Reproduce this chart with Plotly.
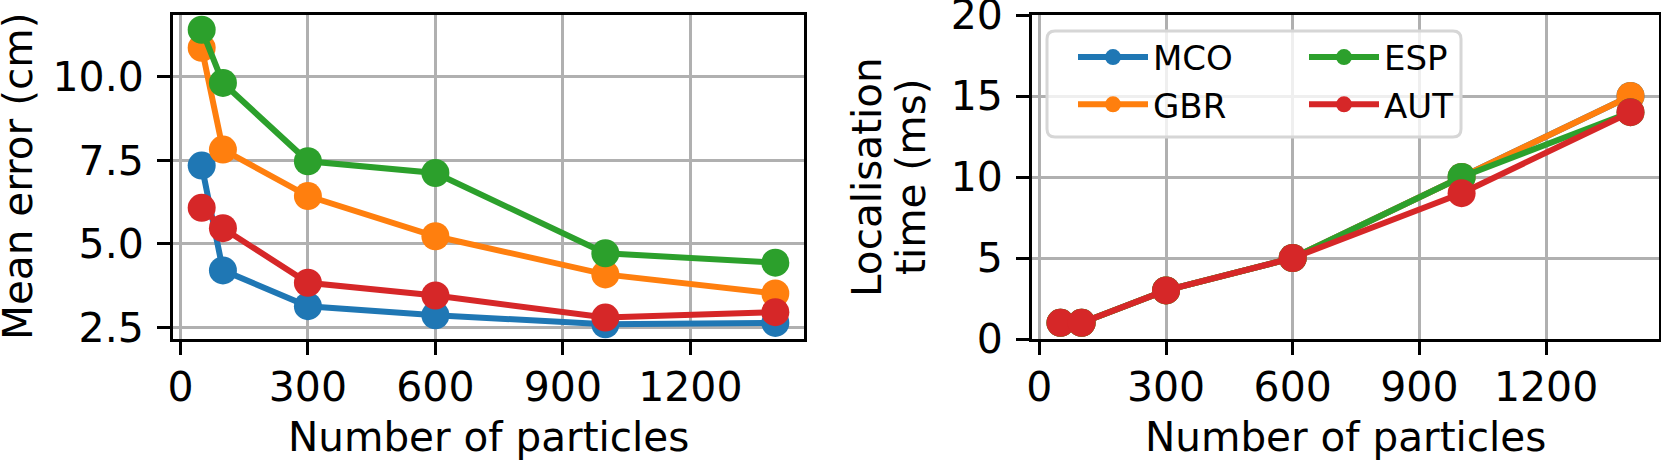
import plotly.graph_objects as go
from plotly.subplots import make_subplots

# number of particles (shared x)
particles = [50, 100, 300, 600, 1000, 1400]

# mean localisation error (cm)
err_mco = [7.34, 4.21, 3.14, 2.87, 2.60, 2.64]
err_gbr = [10.86, 7.82, 6.43, 5.23, 4.09, 3.52]
err_esp = [11.40, 9.81, 7.47, 7.12, 4.72, 4.44]
err_aut = [6.08, 5.47, 3.84, 3.46, 2.80, 2.96]

# localisation time (ms)
time_mco = [1, 1, 3, 5, 10, 15]
time_gbr = [1, 1, 3, 5, 10, 15]
time_esp = [1, 1, 3, 5, 10, 14]
time_aut = [1, 1, 3, 5, 9, 14]

names = ['MCO', 'GBR', 'ESP', 'AUT']
colors = ['#1f77b4', '#ff7f0e', '#2ca02c', '#d62728']
errors = [err_mco, err_gbr, err_esp, err_aut]
times = [time_mco, time_gbr, time_esp, time_aut]

W, H = 1661, 463
FONT = 'DejaVu Sans'

fig = make_subplots(rows=1, cols=2)

for i, (name, color) in enumerate(zip(names, colors)):
    fig.add_trace(go.Scatter(x=particles, y=errors[i], mode='lines+markers', name=name,
                             line=dict(color=color, width=6), marker=dict(color=color, size=28),
                             showlegend=False), 1, 1)
    # matplotlib legend with ncol=2 -> first two in legend, last two in legend2
    fig.add_trace(go.Scatter(x=particles, y=times[i], mode='lines+markers', name=name,
                             line=dict(color=color, width=6), marker=dict(color=color, size=28),
                             legend='legend' if i < 2 else 'legend2'), 1, 2)

# pixel helpers
def px_x(p):
    return p / W

def px_y(p):
    return 1 - p / H

ymin, ymax = min(min(e) for e in errors), max(max(e) for e in errors)
pad = 0.05 * (ymax - ymin)

axis_style = dict(showline=True, linecolor='black', linewidth=3, mirror=True,
                  ticks='outside', ticklen=13, tickwidth=3, tickcolor='black',
                  showgrid=True, gridcolor='#b0b0b0', gridwidth=2.5, zeroline=False,
                  ticklabeloverflow='allow', automargin=False,
                  tickfont=dict(family=FONT, size=41, color='black'))

fig.update_xaxes(**axis_style, range=[-17.5, 1467.5], tickvals=[0, 300, 600, 900, 1200],
                 ticklabelstandoff=-3)
fig.update_xaxes(domain=[px_x(173), px_x(804)], row=1, col=1)
fig.update_xaxes(domain=[px_x(1032), px_x(1659)], row=1, col=2)

fig.update_yaxes(**axis_style, ticklabelstandoff=5, domain=[px_y(339), px_y(15)])
fig.update_yaxes(range=[ymin - pad, ymax + pad], tickvals=[2.5, 5.0, 7.5, 10.0], tickformat='.1f', row=1, col=1)
fig.update_yaxes(range=[0, 20], tickvals=[0, 5, 10, 15, 20], row=1, col=2)

# axis titles
title_font = dict(family=FONT, size=40.5, color='black')
for xc in [(173 + 804) / 2, (1032 + 1659) / 2]:
    fig.add_annotation(text='Number of particles', xref='paper', yref='paper', x=px_x(xc), y=0,
                       showarrow=False, xanchor='center', yanchor='bottom', font=title_font)
fig.add_annotation(text='Mean error (cm)', xref='paper', yref='paper', x=px_x(18), y=px_y(177),
                   textangle=-90, showarrow=False, xanchor='center', yanchor='middle', font=title_font)
for text, xc in [('Localisation', 867), ('time (ms)', 911)]:
    fig.add_annotation(text=text, xref='paper', yref='paper', x=px_x(xc), y=px_y(177),
                       textangle=-90, showarrow=False, xanchor='center', yanchor='middle', font=title_font)

# legend frame (rounded box)
x0, x1, y0, y1, r = 1047, 1461, 31, 137, 8
path = (f'M{px_x(x0 + r)},{px_y(y0)} L{px_x(x1 - r)},{px_y(y0)} '
        f'Q{px_x(x1)},{px_y(y0)} {px_x(x1)},{px_y(y0 + r)} L{px_x(x1)},{px_y(y1 - r)} '
        f'Q{px_x(x1)},{px_y(y1)} {px_x(x1 - r)},{px_y(y1)} L{px_x(x0 + r)},{px_y(y1)} '
        f'Q{px_x(x0)},{px_y(y1)} {px_x(x0)},{px_y(y1 - r)} L{px_x(x0)},{px_y(y0 + r)} '
        f'Q{px_x(x0)},{px_y(y0)} {px_x(x0 + r)},{px_y(y0)} Z')
fig.add_shape(type='path', path=path, xref='paper', yref='paper', layer='above',
              fillcolor='rgba(255,255,255,0.8)', line=dict(color='#d6d6d6', width=3))

legend_style = dict(font=dict(family=FONT, size=34, color='black'), bgcolor='rgba(0,0,0,0)',
                    borderwidth=0, itemwidth=70, xanchor='left', yanchor='top', tracegroupgap=0)
fig.update_layout(
    width=W, height=H,
    margin=dict(l=0, r=0, t=0, b=0, autoexpand=False),
    plot_bgcolor='white', paper_bgcolor='white',
    font=dict(family=FONT, color='black'),
    legend=dict(**legend_style, x=px_x(1073), y=px_y(28.5)),
    legend2=dict(**legend_style, x=px_x(1304), y=px_y(28.5)),
)

# drop the browser's default body margin so the figure sits at the page origin
fig.write_html("out.html", config={'displayModeBar': False},
               post_script="document.body.style.margin = '0px';")
